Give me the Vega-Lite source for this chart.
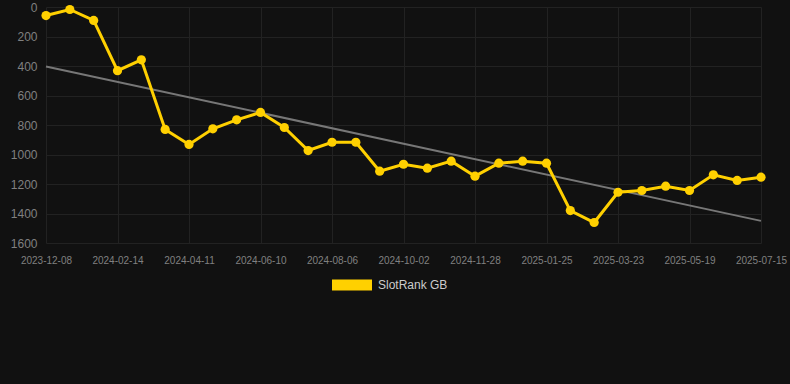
{
  "$schema": "https://vega.github.io/schema/vega-lite/v6.json",
  "width": 715,
  "height": 236,
  "autosize": "none",
  "padding": {"left": 46, "top": 7, "right": 29, "bottom": 141},
  "background": "#111111",
  "config": {
    "view": {"stroke": null},
    "font": "Liberation Sans",
    "axis": {"gridColor": "#222222", "gridWidth": 1, "domain": false, "labelColor": "#808080", "labelFont": "Liberation Sans"}
  },
  "data": {
    "values": [
      {"date": "2023-12-08", "series": "trend", "value": 403},
      {"date": "2025-07-15", "series": "trend", "value": 1450},
      {"date": "2023-12-08", "series": "rank", "value": 58},
      {"date": "2023-12-30", "series": "rank", "value": 17},
      {"date": "2024-01-22", "series": "rank", "value": 91},
      {"date": "2024-02-14", "series": "rank", "value": 432},
      {"date": "2024-03-04", "series": "rank", "value": 358},
      {"date": "2024-03-23", "series": "rank", "value": 830},
      {"date": "2024-04-11", "series": "rank", "value": 932},
      {"date": "2024-05-01", "series": "rank", "value": 826},
      {"date": "2024-05-21", "series": "rank", "value": 765},
      {"date": "2024-06-10", "series": "rank", "value": 715},
      {"date": "2024-06-29", "series": "rank", "value": 817},
      {"date": "2024-07-18", "series": "rank", "value": 973},
      {"date": "2024-08-06", "series": "rank", "value": 917},
      {"date": "2024-08-25", "series": "rank", "value": 917},
      {"date": "2024-09-13", "series": "rank", "value": 1113},
      {"date": "2024-10-02", "series": "rank", "value": 1066},
      {"date": "2024-10-21", "series": "rank", "value": 1093},
      {"date": "2024-11-09", "series": "rank", "value": 1045},
      {"date": "2024-11-28", "series": "rank", "value": 1147},
      {"date": "2024-12-17", "series": "rank", "value": 1059},
      {"date": "2025-01-06", "series": "rank", "value": 1045},
      {"date": "2025-01-25", "series": "rank", "value": 1059},
      {"date": "2025-02-13", "series": "rank", "value": 1380},
      {"date": "2025-03-04", "series": "rank", "value": 1461},
      {"date": "2025-03-23", "series": "rank", "value": 1256},
      {"date": "2025-04-11", "series": "rank", "value": 1244},
      {"date": "2025-04-30", "series": "rank", "value": 1215},
      {"date": "2025-05-19", "series": "rank", "value": 1244},
      {"date": "2025-06-07", "series": "rank", "value": 1138},
      {"date": "2025-06-26", "series": "rank", "value": 1176},
      {"date": "2025-07-15", "series": "rank", "value": 1154}
    ]
  },
  "encoding": {
    "x": {
      "field": "date", "type": "ordinal", "sort": null,
      "scale": {"type": "point", "padding": 0, "domain": ["2023-12-08", "2023-12-30", "2024-01-22", "2024-02-14", "2024-03-04", "2024-03-23", "2024-04-11", "2024-05-01", "2024-05-21", "2024-06-10", "2024-06-29", "2024-07-18", "2024-08-06", "2024-08-25", "2024-09-13", "2024-10-02", "2024-10-21", "2024-11-09", "2024-11-28", "2024-12-17", "2025-01-06", "2025-01-25", "2025-02-13", "2025-03-04", "2025-03-23", "2025-04-11", "2025-04-30", "2025-05-19", "2025-06-07", "2025-06-26", "2025-07-15"]},
      "axis": {
        "title": null, "labelAngle": 0, "labelFontSize": 10, "labelPadding": 12,
        "ticks": false, "grid": true,
        "values": ["2023-12-08", "2024-02-14", "2024-04-11", "2024-06-10", "2024-08-06", "2024-10-02", "2024-11-28", "2025-01-25", "2025-03-23", "2025-05-19", "2025-07-15"]
      }
    },
    "y": {
      "field": "value", "type": "quantitative",
      "scale": {"domain": [0, 1600], "reverse": true, "nice": false},
      "axis": {"title": null, "format": "d", "labelOverlap": false, "tickCount": 20, "values": [0, 200, 400, 600, 800, 1000, 1200, 1400, 1600], "labelFontSize": 12, "labelPadding": 9, "ticks": false}
    }
  },
  "layer": [
    {
      "transform": [{"filter": "datum.series == 'trend'"}],
      "mark": {"type": "line", "color": "#777777", "strokeWidth": 2}
    },
    {
      "transform": [{"filter": "datum.series == 'rank'"}],
      "mark": {"type": "line", "strokeWidth": 3, "color": "#FFD000"}
    },
    {
      "transform": [{"filter": "datum.series == 'rank'"}],
      "mark": {"type": "point", "filled": true, "size": 85, "opacity": 1},
      "encoding": {
        "color": {
          "datum": "SlotRank GB",
          "scale": {"range": ["#FFD000"]},
          "legend": {
            "title": null, "orient": "none", "legendX": 286, "legendY": 258,
            "padding": 0, "symbolType": "M-1,-0.275H1V0.275H-1Z", "symbolSize": 1600,
            "symbolOpacity": 1, "symbolStrokeWidth": 0, "labelOffset": 6, "labelFontSize": 12, "labelColor": "#cccccc"
          }
        }
      }
    }
  ]
}
